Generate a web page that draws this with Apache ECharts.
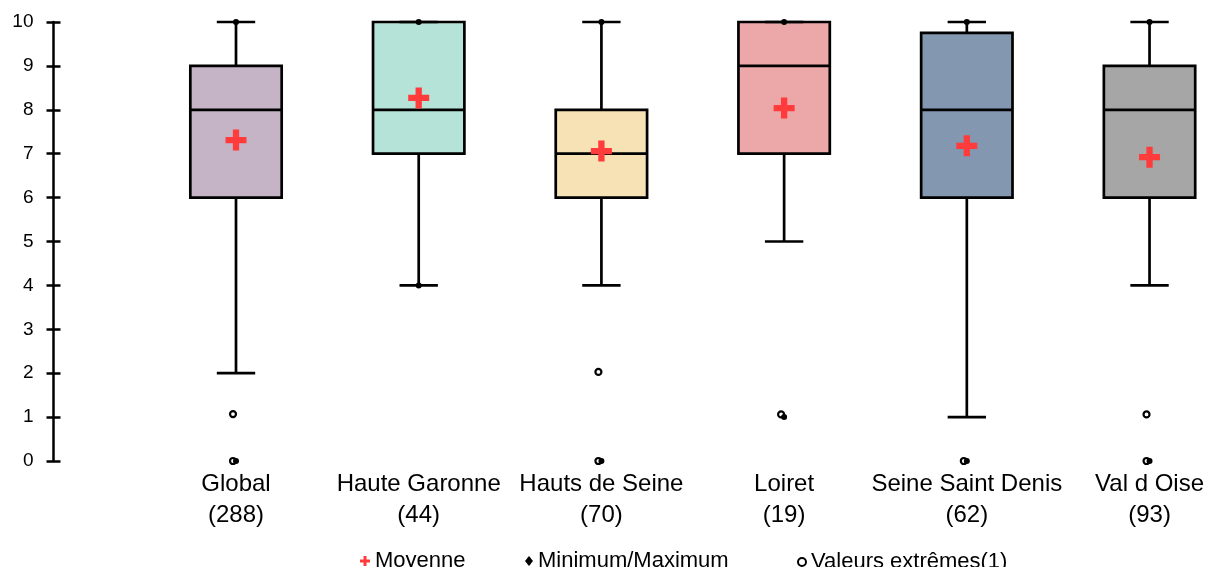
<!DOCTYPE html>
<html>
<head>
<meta charset="utf-8">
<script src="https://cdn.jsdelivr.net/npm/echarts@6/dist/echarts.min.js"></script>
<style>
  html, body { margin: 0; padding: 0; background: #fff; }
  #chart { width: 1207px; height: 567px; }
</style>
</head>
<body>
<div id="chart"></div>
<script>
// ---- Data ----
const categories = ['Global', 'Haute Garonne', 'Hauts de Seine', 'Loiret', 'Seine Saint Denis', 'Val d Oise'];
const counts = [288, 44, 70, 19, 62, 93];
const whiskerLow = [2, 4, 4, 5, 1, 4];
const q1 = [6, 7, 6, 7, 6, 6];
const median = [8, 8, 7, 9, 8, 8];
const q3 = [9, 10, 8, 10, 9.75, 9];
const whiskerHigh = [10, 10, 10, 10, 10, 10];
const means = [7.31, 8.27, 7.06, 8.04, 7.18, 6.92];
const minimums = [0, 4, 0, 1, 0, 0];
const maximums = [10, 10, 10, 10, 10, 10];
// outliers: category index and value
const outlierCat = [0, 0, 2, 2, 3, 4, 5, 5];
const outlierVal = [1.07, 0, 2.03, 0, 1.06, 0, 1.06, 0];
const yTicks = [0, 1, 2, 3, 4, 5, 6, 7, 8, 9, 10];

const boxColors = ['#C5B4C6', '#B5E3D8', '#F6E2B5', '#ECA8A8', '#8497B0', '#A6A6A6'];
const FONT = 'Liberation Sans';

const boxData = categories.map((c, i) => [i, whiskerLow[i], q1[i], median[i], q3[i], whiskerHigh[i]]);
const meanData = categories.map((c, i) => [i, means[i]]);
const minMaxData = [];
categories.forEach((c, i) => { minMaxData.push([i, minimums[i]]); minMaxData.push([i, maximums[i]]); });
const outlierData = outlierCat.map((c, i) => [c, outlierVal[i]]);

const chart = echarts.init(document.getElementById('chart'), null, { renderer: 'canvas' });

// layout: category slot width in px, first category centre, right edge of page
const W = 1207, FIRST_CENTER = 236, SLOT = 183, AXIS_X = 53.5;
const xMax = (W - FIRST_CENTER) / SLOT;

const LW = 2.7;
function renderBox(params, api) {
  const x = api.value(0);
  const pLow = api.coord([x, api.value(1)]);
  const pQ1 = api.coord([x, api.value(2)]);
  const pMed = api.coord([x, api.value(3)]);
  const pQ3 = api.coord([x, api.value(4)]);
  const pHigh = api.coord([x, api.value(5)]);
  const band = api.size([1, 0])[0];
  const bw = band * 0.5;
  const cw = band * 0.21;
  const cx = pLow[0];
  const line = (x1, y1, x2, y2) => ({
    type: 'line',
    shape: { x1, y1, x2, y2 },
    style: { stroke: '#000', lineWidth: LW }
  });
  return {
    type: 'group',
    children: [
      line(cx, pLow[1], cx, pQ1[1]),
      line(cx, pQ3[1], cx, pHigh[1]),
      {
        type: 'rect',
        shape: { x: cx - bw / 2, y: pQ3[1], width: bw, height: pQ1[1] - pQ3[1] },
        style: { fill: boxColors[params.dataIndex], stroke: '#000', lineWidth: LW }
      },
      line(cx - bw / 2, pMed[1], cx + bw / 2, pMed[1]),
      line(cx - cw / 2, pLow[1], cx + cw / 2, pLow[1]),
      line(cx - cw / 2, pHigh[1], cx + cw / 2, pHigh[1])
    ]
  };
}

const plusPath = 'path://M7,0h6v7h7v6h-7v7h-6v-7h-7v-6h7z';

const option = {
  animation: false,
  backgroundColor: '#fff',
  textStyle: { fontFamily: FONT },
  grid: { left: FIRST_CENTER, top: 22, right: 0, bottom: 106, containLabel: false },
  xAxis: {
    type: 'value',
    min: 0,
    max: xMax,
    interval: 1,
    axisLine: { show: false, onZero: false },
    axisTick: { show: false },
    splitLine: { show: false },
    axisLabel: {
      showMaxLabel: false,
      margin: 8,
      fontFamily: FONT,
      fontSize: 24,
      lineHeight: 31,
      color: '#000',
      formatter: (v) => {
        const i = Math.round(v);
        if (Math.abs(v - i) > 1e-6 || i < 0 || i >= categories.length) return '';
        return categories[i] + '\n(' + counts[i] + ')';
      }
    }
  },
  yAxis: [
    {
      type: 'value',
      position: 'left',
      offset: FIRST_CENTER - AXIS_X,
      min: 0, max: 10, interval: 1,
      axisLine: { show: true, onZero: false, lineStyle: { color: '#000', width: 2.5 } },
      axisTick: { show: true, inside: false, length: 7, lineStyle: { color: '#000', width: 2.5 } },
      axisLabel: {
        margin: 20, fontFamily: FONT, fontSize: 19, color: '#000',
        formatter: (v) => (yTicks.indexOf(v) >= 0 ? String(v) : '')
      },
      splitLine: { show: false }
    },
    {
      type: 'value',
      position: 'left',
      offset: FIRST_CENTER - AXIS_X,
      min: 0, max: 10, interval: 1,
      axisLine: { show: false, onZero: false },
      axisTick: { show: true, inside: true, length: 7, lineStyle: { color: '#000', width: 2.5 } },
      axisLabel: { show: false },
      splitLine: { show: false }
    }
  ],
  legend: [
    {
      left: 360, top: 550, padding: 0, itemWidth: 10, itemHeight: 10,
      textStyle: { fontFamily: FONT, fontSize: 22, color: '#000' },
      data: [{ name: 'Moyenne', icon: plusPath, itemStyle: { color: '#FF3B3B' } }],
      selectedMode: false
    },
    {
      left: 525, top: 550, padding: 0, itemWidth: 8, itemHeight: 10,
      textStyle: { fontFamily: FONT, fontSize: 22, color: '#000' },
      data: [{ name: 'Minimum/Maximum', icon: 'diamond', itemStyle: { color: '#000' } }],
      selectedMode: false
    },
    {
      left: 797, top: 551, padding: 0, itemWidth: 8, itemHeight: 8,
      textStyle: { fontFamily: FONT, fontSize: 22, color: '#000' },
      data: [{ name: 'Valeurs extrêmes(1)', icon: 'circle', itemStyle: { color: '#fff', borderColor: '#000', borderWidth: 2 } }],
      selectedMode: false
    }
  ],
  series: [
    {
      name: 'boxes',
      type: 'custom',
      renderItem: renderBox,
      encode: { x: 0, y: [1, 2, 3, 4, 5] },
      data: boxData,
      clip: false,
      z: 2
    },
    {
      name: 'Valeurs extrêmes(1)',
      type: 'scatter',
      data: outlierData,
      symbol: 'circle',
      symbolSize: 6,
      symbolOffset: [-3, 0],
      clip: false,
      itemStyle: { color: '#fff', borderColor: '#000', borderWidth: 2.2, opacity: 1 },
      z: 4
    },
    {
      name: 'Minimum/Maximum',
      type: 'scatter',
      data: minMaxData,
      symbol: 'circle',
      symbolSize: 6,
      clip: false,
      itemStyle: { color: '#000', opacity: 1 },
      z: 5
    },
    {
      name: 'Moyenne',
      type: 'scatter',
      data: meanData,
      symbol: plusPath,
      symbolSize: 21,
      clip: false,
      itemStyle: { color: '#FF3B3B', opacity: 1 },
      z: 6
    }
  ]
};

chart.setOption(option);
</script>
</body>
</html>
